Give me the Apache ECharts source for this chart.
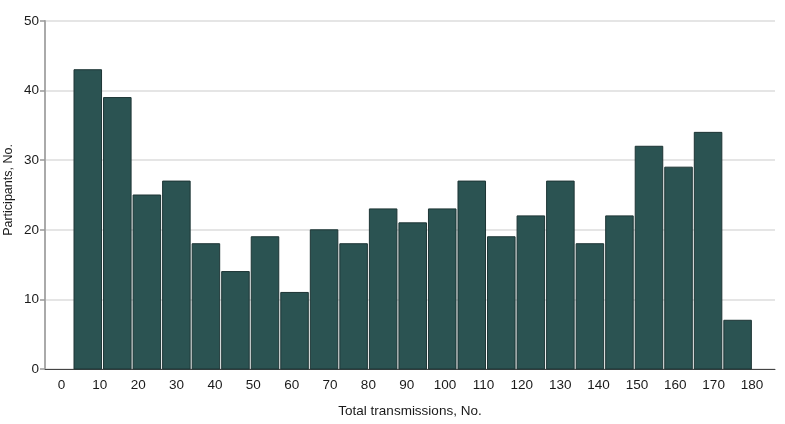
<!DOCTYPE html>
<html>
<head>
<meta charset="utf-8">
<script src="https://cdn.jsdelivr.net/npm/echarts@6/dist/echarts.min.js"></script>
<style>html,body{margin:0;padding:0;background:#fff}#c{width:785px;height:424px}</style>
</head>
<body>
<div id="c"></div>
<script>
// Histogram bin edges (total transmissions)
var binStarts = [3, 10.7, 18.4, 26.1, 33.8, 41.5, 49.2, 56.9, 64.6, 72.3, 80, 87.7, 95.4, 103.1, 110.8, 118.5, 126.2, 133.9, 141.6, 149.3, 157, 164.7, 172.4];
var binEnds = [10.7, 18.4, 26.1, 33.8, 41.5, 49.2, 56.9, 64.6, 72.3, 80, 87.7, 95.4, 103.1, 110.8, 118.5, 126.2, 133.9, 141.6, 149.3, 157, 164.7, 172.4, 180.1];
// Participants per bin
var counts = [43, 39, 25, 27, 18, 14, 19, 11, 20, 18, 23, 21, 23, 27, 19, 22, 27, 18, 22, 32, 29, 34, 7];
var xTicks = [0, 10, 20, 30, 40, 50, 60, 70, 80, 90, 100, 110, 120, 130, 140, 150, 160, 170, 180];
var yTicks = [0, 10, 20, 30, 40, 50];

var data = counts.map(function (c, i) { return [binStarts[i], binEnds[i], c]; });
var FONT = 'Liberation Sans';
var chart = echarts.init(document.getElementById('c'));
chart.setOption({
  animation: false,
  grid: { left: 45, right: 10, top: 21, bottom: 55, containLabel: false, outerBoundsMode: 'none' },
  xAxis: {
    type: 'value', min: -4.3, max: 186,
    name: 'Total transmissions, No.', nameLocation: 'middle', nameGap: 35,
    nameTextStyle: { color: '#1a1a1a', fontSize: 13.5, fontFamily: FONT },
    axisLine: { show: true, onZero: false, lineStyle: { color: '#444', width: 1 } },
    axisTick: { show: false },
    splitLine: { show: false },
    axisLabel: { customValues: xTicks, color: '#1a1a1a', fontSize: 13.5, fontFamily: FONT, margin: 9 }
  },
  yAxis: {
    type: 'value', min: 0, max: 50, interval: 10,
    name: 'Participants, No.', nameLocation: 'middle', nameGap: 30, nameRotate: 90,
    nameMoveOverlap: false,
    nameTextStyle: { color: '#1a1a1a', fontSize: 12.5, fontFamily: FONT, padding: [0, 0, 0, 10] },
    axisLine: { show: true, onZero: false, lineStyle: { color: '#aaa', width: 2 } },
    axisTick: { show: true, length: 5, lineStyle: { color: '#999', width: 1.5 } },
    splitLine: { show: true, lineStyle: { color: '#dcdcdc', width: 1.5 } },
    axisLabel: { customValues: yTicks, color: '#1a1a1a', fontSize: 13.5, fontFamily: FONT, margin: 6 }
  },
  series: [{
    type: 'custom',
    data: data,
    encode: { x: [0, 1], y: 2 },
    renderItem: function (params, api) {
      var p0 = api.coord([api.value(0), api.value(2)]);
      var p1 = api.coord([api.value(1), 0]);
      var x = p0[0] + 1, w = p1[0] - p0[0] - 2;
      return {
        type: 'rect',
        shape: { x: x, y: p0[1], width: w, height: p1[1] - p0[1] },
        style: { fill: '#2b5352', stroke: '#1d3535', lineWidth: 1 }
      };
    }
  }]
});
</script>
</body>
</html>
